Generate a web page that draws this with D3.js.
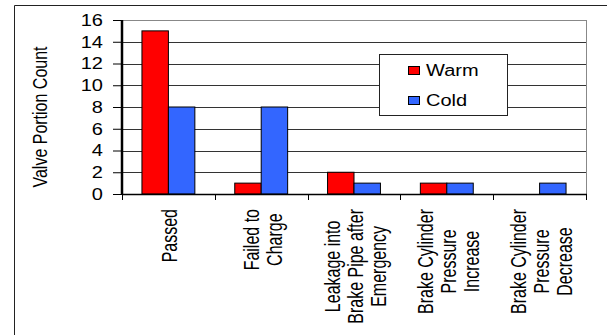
<!DOCTYPE html>
<html>
<head>
<meta charset="utf-8">
<script src="https://cdn.jsdelivr.net/npm/d3@7"></script>
<style>
  html, body { margin: 0; padding: 0; background: #fff; }
  svg { display: block; font-family: "Liberation Sans", Arial, sans-serif; }
</style>
</head>
<body>
<div id="chart"></div>
<script>
// Valve portion counts by test outcome, warm vs cold
const categories = [
  ['Passed'],
  ['Failed to', 'Charge'],
  ['Leakage into', 'Brake Pipe after', 'Emergency'],
  ['Brake Cylinder', 'Pressure', 'Increase'],
  ['Brake Cylinder', 'Pressure', 'Decrease']
];
const seriesNames = ['Warm', 'Cold'];
const warmValues = [15, 1, 2, 1, 0];
const coldValues = [8, 8, 1, 1, 1];
const yTicks = [0, 2, 4, 6, 8, 10, 12, 14, 16];

const colors = { Warm: '#ff0000', Cold: '#3366ff' };

const width = 607;
const height = 335;
const margin = { top: 20, right: 21, bottom: 141, left: 122 };
const stretch = 1.25;      // horizontal text is widened in the source
const labelStretch = 1.4;  // rotated labels, glyph height widened

const svg = d3.select('#chart')
  .append('svg')
  .attr('width', width)
  .attr('height', height);

// outer frame (left and top edges only)
svg.append('path')
  .attr('d', `M14.5,${height} V5.5 H${width}`)
  .attr('fill', 'none')
  .attr('stroke', '#222')
  .attr('stroke-width', 1);

const keys = categories.map((c) => c.join(' '));

const x0 = d3.scaleBand()
  .domain(keys)
  .range([margin.left, width - margin.right]);

const bw = x0.bandwidth();
const x1 = d3.scaleBand()
  .domain(seriesNames)
  .range([bw * 0.215, bw * 0.785]);

const y = d3.scaleLinear()
  .domain([0, 16])
  .range([height - margin.bottom, margin.top]);

const left = margin.left;
const right = width - margin.right;
const bottom = y(0);

// gridlines
svg.append('g')
  .selectAll('line')
  .data(yTicks.filter((t) => t > 0))
  .join('line')
  .attr('x1', left)
  .attr('x2', right)
  .attr('y1', (d) => Math.round(y(d)) + 0.5)
  .attr('y2', (d) => Math.round(y(d)) + 0.5)
  .attr('stroke', (d) => (d === 16 ? '#888' : '#333'))
  .attr('stroke-width', 1);

// right edge of plot area
svg.append('line')
  .attr('x1', Math.round(right) + 0.5)
  .attr('x2', Math.round(right) + 0.5)
  .attr('y1', y(16))
  .attr('y2', bottom)
  .attr('stroke', '#888');

// bars
const rows = keys.map((k, i) => ({ key: k, Warm: warmValues[i], Cold: coldValues[i] }));

svg.append('g')
  .selectAll('g')
  .data(rows)
  .join('g')
  .attr('transform', (d) => `translate(${x0(d.key)},0)`)
  .selectAll('rect')
  .data((d) => seriesNames.map((s) => ({ s, v: d[s] })).filter((e) => e.v > 0))
  .join('rect')
  .attr('x', (d) => x1(d.s))
  .attr('y', (d) => y(d.v))
  .attr('width', x1.bandwidth())
  .attr('height', (d) => bottom - y(d.v))
  .attr('fill', (d) => colors[d.s])
  .attr('stroke', '#000')
  .attr('stroke-width', 1);

// x axis line + category ticks
svg.append('line')
  .attr('x1', left)
  .attr('x2', right + 1)
  .attr('y1', Math.round(bottom) + 0.5)
  .attr('y2', Math.round(bottom) + 0.5)
  .attr('stroke', '#000')
  .attr('stroke-width', 1.5);

const boundaries = keys.map((k) => x0(k)).concat([right]);
svg.append('g')
  .selectAll('line')
  .data(boundaries)
  .join('line')
  .attr('x1', (d) => Math.round(d) + 0.5)
  .attr('x2', (d) => Math.round(d) + 0.5)
  .attr('y1', bottom)
  .attr('y2', bottom + 6)
  .attr('stroke', '#000');

// y axis
const yAxis = d3.axisLeft(y).tickValues(yTicks).tickSize(9).tickFormat('');
svg.append('g')
  .attr('transform', `translate(${left},0)`)
  .call(yAxis)
  .call((g) => g.select('.domain').attr('stroke-width', 2.5).attr('d', `M0,${y(16)}V${bottom}`))
  .call((g) => g.selectAll('.tick line').attr('stroke', '#000'));

svg.append('g')
  .selectAll('text')
  .data(yTicks)
  .join('text')
  .attr('transform', (d) => `translate(103,${y(d)}) scale(${stretch},1)`)
  .attr('dy', '0.36em')
  .attr('text-anchor', 'end')
  .attr('font-size', 16)
  .attr('fill', '#000')
  .text((d) => d);

// y axis title
svg.append('text')
  .attr('transform', `translate(47,117) rotate(-90) scale(1,1.3)`)
  .attr('text-anchor', 'middle')
  .attr('font-size', 16)
  .attr('fill', '#000')
  .text('Valve Portion Count');

// category labels, rotated, lines centred on each other, block top-aligned
const labelTop = 209;
const lineGap = 23;
categories.forEach((lines, i) => {
  const cx = x0(keys[i]) + bw / 2;
  const g = svg.append('g');
  const texts = g.selectAll('text')
    .data(lines)
    .join('text')
    .attr('font-size', 16)
    .attr('text-anchor', 'middle')
    .attr('fill', '#000')
    .text((d) => d);
  const maxLen = d3.max(texts.nodes(), (n) => n.getComputedTextLength());
  const cy = labelTop + maxLen / 2;
  texts.attr('transform', (d, j) => {
    const bx = cx + (j - (lines.length - 1) / 2) * lineGap + 9;
    return `translate(${bx},${cy}) rotate(-90) scale(1,${labelStretch})`;
  });
});

// legend
const legend = svg.append('g');
legend.append('rect')
  .attr('x', 379.5)
  .attr('y', 54.5)
  .attr('width', 128)
  .attr('height', 61)
  .attr('fill', '#fff')
  .attr('stroke', '#222');

const legendRows = legend.selectAll('g')
  .data(seriesNames)
  .join('g')
  .attr('transform', (d, i) => `translate(408,${66 + i * 30})`);

legendRows.append('rect')
  .attr('x', 0.5)
  .attr('y', 0.5)
  .attr('width', 11)
  .attr('height', 8)
  .attr('fill', (d) => colors[d])
  .attr('stroke', '#000');

legendRows.append('text')
  .attr('transform', `translate(18,10) scale(${stretch},1)`)
  .attr('font-size', 16)
  .attr('fill', '#000')
  .text((d) => d);
</script>
</body>
</html>
